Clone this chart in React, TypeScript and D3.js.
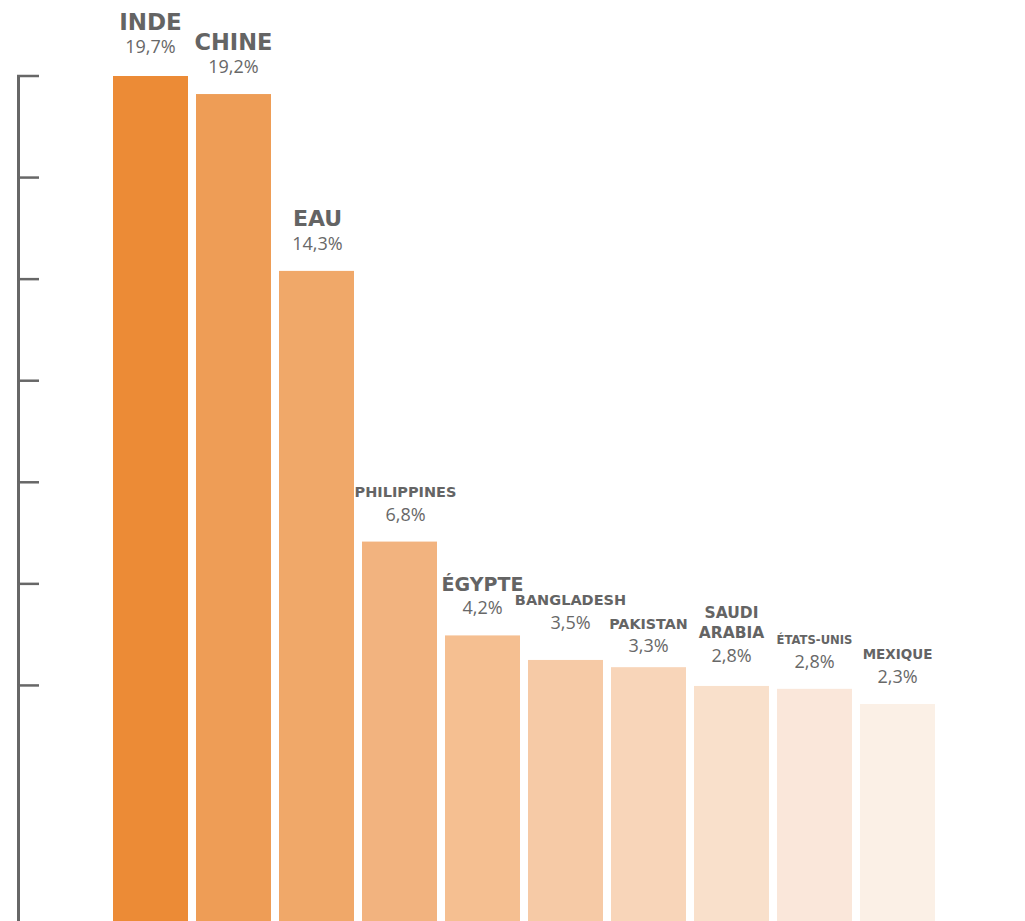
import React from "react";
import * as d3 from "d3";

const countries = ["INDE", "CHINE", "EAU", "PHILIPPINES", "ÉGYPTE", "BANGLADESH", "PAKISTAN", "SAUDI ARABIA", "ÉTATS-UNIS", "MEXIQUE"];
const shares = [19.7, 19.2, 14.3, 6.8, 4.2, 3.52, 3.32, 2.8, 2.72, 2.3];
const shareLabels = ["19,7%", "19,2%", "14,3%", "6,8%", "4,2%", "3,5%", "3,3%", "2,8%", "2,8%", "2,3%"];
const tickCount = 7;

// styles
const barColors = ["#EC8B36", "#EE9D56", "#F0A869", "#F2B37F", "#F5BF91", "#F6CAA6", "#F8D5B9", "#F9E0CB", "#FAE7DA", "#FBF0E6"];
const nameSizes = [23, 22.5, 22, 14.5, 19, 14.5, 14.3, 15.5, 11.6, 13.5];
const nameLineBreaks = [[], [], [], [], [], [], [], ["SAUDI", "ARABIA"], [], []];
const labelDy = [-2, 0, 0, 0, 0, -10, 6, -3, 0, 0];
const labelDx = [0, 0, 1, 6, 0, 5, 0, 0, 0, 0];

const W = 1025;
const H = 921;
const TEXT = "#646464";

export default function App() {
  const x = d3.scaleBand<string>().domain(countries).range([113, 935]).paddingInner(8 / 83).paddingOuter(0);
  const maxV = d3.max(shares) as number;
  const y = d3.scaleLinear().domain([0, maxV]).range([787, 76]);
  const ticks = d3.range(1, tickCount + 1).map((i) => (i * maxV) / tickCount);

  return (
    <svg width={W} height={H} style={{ position: "absolute", left: 0, top: 0, background: "#fff" }}>
      {/* axis */}
      <line x1={18.5} x2={18.5} y1={y(maxV) - 1} y2={H} stroke="#676767" strokeWidth={3} />
      {ticks.map((t, i) => (
        <line key={i} x1={17} x2={39} y1={y(t)} y2={y(t)} stroke="#676767" strokeWidth={2.5} />
      ))}
      {countries.map((c, i) => {
        const bx = x(c) as number;
        const bw = x.bandwidth();
        const top = y(shares[i]);
        const cx = bx + bw / 2 + labelDx[i];
        const pctY = top - 21 + labelDy[i];
        const lines = nameLineBreaks[i].length ? nameLineBreaks[i] : [c];
        return (
          <g key={c}>
            <rect x={bx} y={top} width={bw} height={H - top} fill={barColors[i]} />
            <text x={cx} y={pctY} textAnchor="middle" fontFamily="'Open Sans', sans-serif" fontWeight={400} fontSize={18} fill="#686868">
              {shareLabels[i]}
            </text>
            {lines.map((ln, k) => (
              <text
                key={k}
                x={cx}
                y={pctY - 23.5 - (lines.length - 1 - k) * 20}
                textAnchor="middle"
                fontFamily="'DejaVu Sans', sans-serif"
                fontWeight={700}
                fontSize={nameSizes[i]}
                fill={TEXT}
              >
                {ln}
              </text>
            ))}
          </g>
        );
      })}
    </svg>
  );
}
